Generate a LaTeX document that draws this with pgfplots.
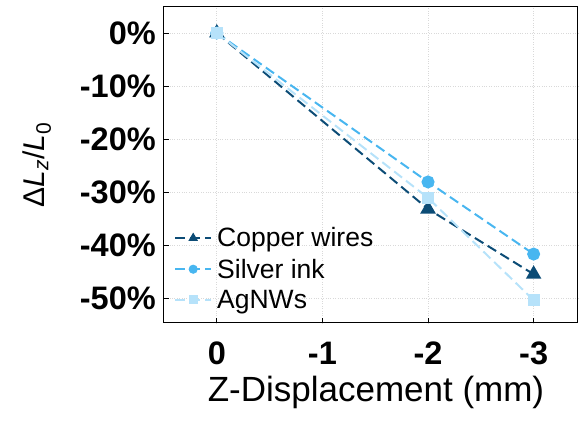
\documentclass[border=0pt]{standalone}
\usepackage{pgfplots}
\pgfplotsset{compat=1.18}
\usepackage{fontspec}
\setmainfont{Liberation Sans}

\definecolor{copper}{RGB}{12,76,118}
\definecolor{silver}{RGB}{72,182,240}
\definecolor{agnw}{RGB}{182,226,250}

\begin{document}
\begin{tikzpicture}
\begin{axis}[
    name=ax,
    scale only axis,
    width=414pt, height=316pt,
    x dir=reverse,
    xmin=-3.42, xmax=0.5,
    ymin=-54.7, ymax=4.9,
    xtick={0,-1,-2,-3},
    xticklabels={0,-1,-2,-3},
    ytick={0,-10,-20,-30,-40,-50},
    yticklabels={0\%,-10\%,-20\%,-30\%,-40\%,-50\%},
    xtick pos=bottom, ytick pos=left,
    tick align=inside,
    major tick length=5pt,
    tick style={black, line width=0.8pt},
    axis line style={black, line width=1pt},
    grid=major,
    grid style={dotted, gray!30, line width=0.6pt},
    ticklabel style={font=\fontsize{32.5}{35}\selectfont\bfseries},
    yticklabel style={inner sep=0pt, xshift=-8pt},
    xticklabel style={inner sep=0pt, yshift=-19pt},
    xlabel={Z-Displacement (mm)},
    ylabel={Δ\textit{L}\textsubscript{\textit{z}}/\textit{L}\textsubscript{0}},
    xlabel style={font=\fontsize{35}{38}\selectfont, at={(axis description cs:0.5,0)}, anchor=base, yshift=-79pt, xshift=5pt},
    ylabel style={font=\fontsize{30}{34}\selectfont, at={(axis description cs:0,0.5)}, anchor=center, yshift=127pt},
    legend style={at={(axis description cs:0,0)}, anchor=south west, xshift=10pt, yshift=11pt,
        draw=none, fill=none, font=\fontsize{26.5}{28}\selectfont, row sep=6.5pt,
        inner sep=0pt, nodes={inner xsep=5pt}},
    legend cell align=left,
    legend image code/.code={\draw[mark repeat=2,mark phase=2,mark size=3.5pt] plot coordinates {(0pt,0pt)(18pt,0pt)(36pt,0pt)};},
    every axis plot/.append style={line width=2pt, dash pattern=on 10pt off 5pt},
]
\addplot[color=copper, mark=triangle*, mark size=7pt, mark options={solid}]
    coordinates {(0,0) (-2,-33.2) (-3,-45.5)};
\addlegendentry{Copper wires}
\addplot[color=silver, mark=*, mark size=5.5pt, mark options={solid}]
    coordinates {(0,0) (-2,-28.1) (-3,-41.7)};
\addlegendentry{Silver ink}
\addplot[color=agnw, mark=square*, mark size=5pt, mark options={solid}]
    coordinates {(0,0) (-2,-31.1) (-3,-50.4)};
\addlegendentry{AgNWs}
\end{axis}
\pgfresetboundingbox
\path ([xshift=-164pt,yshift=-107pt]ax.south west) rectangle ([xshift=3pt,yshift=7pt]ax.north east);
\end{tikzpicture}
\end{document}
